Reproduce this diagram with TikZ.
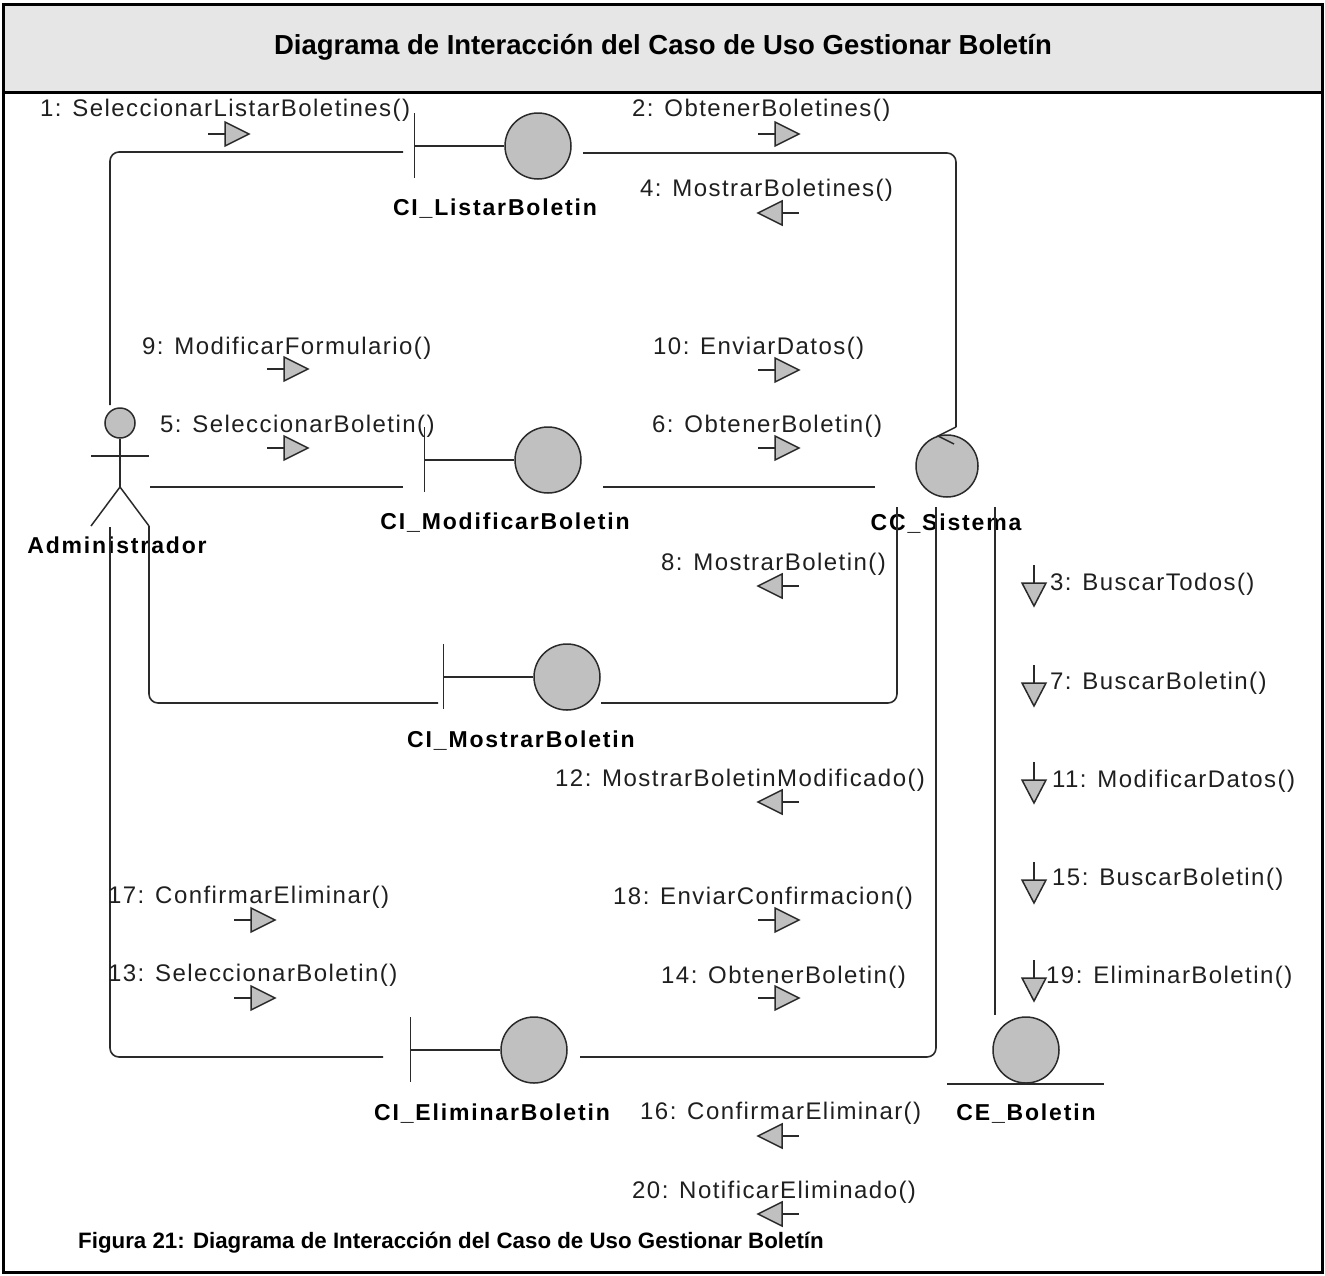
\documentclass[tikz,border=0pt]{standalone}
\usepackage{fontspec}
\setmainfont{Liberation Sans}
\newfontfamily\msgfont[LetterSpace=6]{Liberation Sans}
\newfontfamily\namefont[LetterSpace=8]{Liberation Sans}
\definecolor{objfill}{HTML}{C0C0C0}
\definecolor{band}{HTML}{E6E6E6}
\definecolor{ink}{HTML}{2A2A2A}

\tikzset{
  frame/.style={draw=black, line width=3pt},
  link/.style={draw=ink, line width=1.6pt, rounded corners=9pt},
  stroke/.style={draw=ink, line width=1.5pt},
  obj/.style={circle, draw=ink, fill=objfill, line width=1.5pt, minimum size=66pt, inner sep=0pt},
  msg/.style={anchor=west, inner sep=0pt, text=black!88,
    font=\msgfont\fontsize{24}{28}\selectfont},
  objname/.style={inner sep=0pt, text=black,
    font=\namefont\bfseries\fontsize{23}{27}\selectfont},
  % message direction markers
  msgright/.pic={
    \draw[stroke] (0,0) -- (17,0);
    \draw[stroke, fill=objfill] (17,-12) -- (41,0) -- (17,12) -- cycle;
  },
  msgleft/.pic={
    \draw[stroke, fill=objfill] (0,0) -- (24,-12) -- (24,12) -- cycle;
    \draw[stroke] (24,0) -- (41,0);
  },
  msgdown/.pic={
    \draw[stroke] (0,0) -- (0,18);
    \draw[stroke, fill=objfill] (-12,18) -- (12,18) -- (0,41) -- cycle;
  },
}

\begin{document}
\begin{tikzpicture}[x=1pt, y=-1pt]
\useasboundingbox (0,0) rectangle (1325,1275);

% frame and title band
\fill[band] (3,4) rectangle (1322,92);
\draw[frame] (3,4) rectangle (1322,1272);
\draw[frame] (3,92) -- (1322,92);
\node[font=\bfseries\fontsize{27.5}{32}\selectfont] (title) at (663,47)
  {Diagrama de Interacción del Caso de Uso Gestionar Boletín};

% ---------- actor ----------
\node[circle, draw=ink, fill=objfill, line width=1.5pt, minimum size=30pt, inner sep=0pt] (admin) at (120,423) {};
\draw[stroke] (admin.south) -- (120,487) coordinate (hip);
\draw[stroke] (91,456) -- (149,456);
\draw[stroke] (91,526) -- (hip) -- (149,526) coordinate (footR);
\node[objname] (adminlbl) at (117,545) {Administrador};

% ---------- objects ----------
\node[obj] (listar) at (538,146) {};
\node[obj] (modif)  at (548,460) {};
\node[obj] (mostrar) at (567,677) {};
\node[obj] (elim)   at (534,1050) {};
\node[obj, minimum size=62pt] (cc) at (947,466) {};
\node[obj] (ce)     at (1026,1050) {};

% boundary marks
\foreach \b in {listar, modif, mostrar, elim}{
  \draw[stroke] (\b.west) -- ++(-90,0) coordinate (\b-bar);
  \draw[stroke] (\b-bar) ++(0,-33) -- ++(0,65);
}
% entity underline
\draw[stroke] (ce.south) ++(-79,0) -- ++(157,0);

\node[objname] (listarlbl)  at (495,209)  {CI\_ListarBoletin};
\node[objname] (modiflbl)   at (505,523)  {CI\_ModificarBoletin};
\node[objname] (mostrarlbl) at (521,741)  {CI\_MostrarBoletin};
\node[objname] (elimlbl)    at (492,1114) {CI\_EliminarBoletin};
\node[objname] (cclbl)      at (946,524)  {CC\_Sistema};
\node[objname] (celbl)      at (1026,1114) {CE\_Boletin};

% ---------- link end points ----------
\coordinate (admTop)    at (110,405);
\coordinate (admArm)    at (150,487);
\coordinate (admLow)    at (110,527);
\coordinate (listarIn)  at (403,152);
\coordinate (listarOut) at (583,153);
\coordinate (ccHook)    at (956,427);
\coordinate (modifIn)   at (403,487);
\coordinate (modifOut)  at (603,487);
\coordinate (ccLeft)    at (875,487);
\coordinate (mostrarIn) at (438,703);
\coordinate (mostrarOut) at (601,703);
\coordinate (elimIn)    at (383,1057);
\coordinate (elimOut)   at (580,1057);
\coordinate (ccA) at (897,507);
\coordinate (ccB) at (936,507);
\coordinate (ccC) at (995,507);
\coordinate (ceTop) at (995,1015);

% ---------- links ----------
\draw[link] (admTop) |- (listarIn);
\draw[link] (listarOut) -| (ccHook);
\draw[stroke] (ccHook) -- (938,436) -- (954,444);
\draw[link] (admArm) -- (modifIn);
\draw[link] (modifOut) -- (ccLeft);
\draw[link] (footR) |- (mostrarIn);
\draw[link] (mostrarOut) -| (ccA);
\draw[link] (admLow) |- (elimIn);
\draw[link] (elimOut) -| (ccB);
\draw[link] (ccC) -- (ceTop);

% ---------- messages ----------
\node[msg] (m1)  at (40,110)  {1: SeleccionarListarBoletines()};
\pic at (208,134) {msgright};
\node[msg] (m2)  at (632,110) {2: ObtenerBoletines()};
\pic at (758,134) {msgright};
\node[msg] (m4)  at (640,190) {4: MostrarBoletines()};
\pic at (758,213) {msgleft};
\node[msg] (m9)  at (142,348) {9: ModificarFormulario()};
\pic at (267,369) {msgright};
\node[msg] (m10) at (653,348) {10: EnviarDatos()};
\pic at (758,370) {msgright};
\node[msg] (m5)  at (160,426) {5: SeleccionarBoletin()};
\pic at (267,448) {msgright};
\node[msg] (m6)  at (652,426) {6: ObtenerBoletin()};
\pic at (758,448) {msgright};
\node[msg] (m8)  at (661,564) {8: MostrarBoletin()};
\pic at (758,586) {msgleft};
\node[msg] (m12) at (555,780) {12: MostrarBoletinModificado()};
\pic at (758,802) {msgleft};
\node[msg] (m17) at (108,897) {17: ConfirmarEliminar()};
\pic at (234,920) {msgright};
\node[msg] (m18) at (613,898) {18: EnviarConfirmacion()};
\pic at (758,920) {msgright};
\node[msg] (m13) at (108,975) {13: SeleccionarBoletin()};
\pic at (234,998) {msgright};
\node[msg] (m14) at (661,977) {14: ObtenerBoletin()};
\pic at (758,998) {msgright};
\node[msg] (m16) at (640,1113) {16: ConfirmarEliminar()};
\pic at (758,1136) {msgleft};
\node[msg] (m20) at (632,1192) {20: NotificarEliminado()};
\pic at (758,1214) {msgleft};

% calls towards the entity
\pic at (1034,565) {msgdown};
\node[msg] (m3)  at (1050,584) {3: BuscarTodos()};
\pic at (1034,665) {msgdown};
\node[msg] (m7)  at (1050,683) {7: BuscarBoletin()};
\pic at (1034,762) {msgdown};
\node[msg] (m11) at (1052,781) {11: ModificarDatos()};
\pic at (1034,862) {msgdown};
\node[msg] (m15) at (1052,879) {15: BuscarBoletin()};
\pic at (1034,960) {msgdown};
\node[msg] (m19) at (1046,977) {19: EliminarBoletin()};

% caption
\node[anchor=west, inner sep=0pt, font=\bfseries\fontsize{22.3}{26}\selectfont] (caption) at (78,1243)
  {Figura 21: Diagrama de Interacción del Caso de Uso Gestionar Boletín};
\end{tikzpicture}
\end{document}
